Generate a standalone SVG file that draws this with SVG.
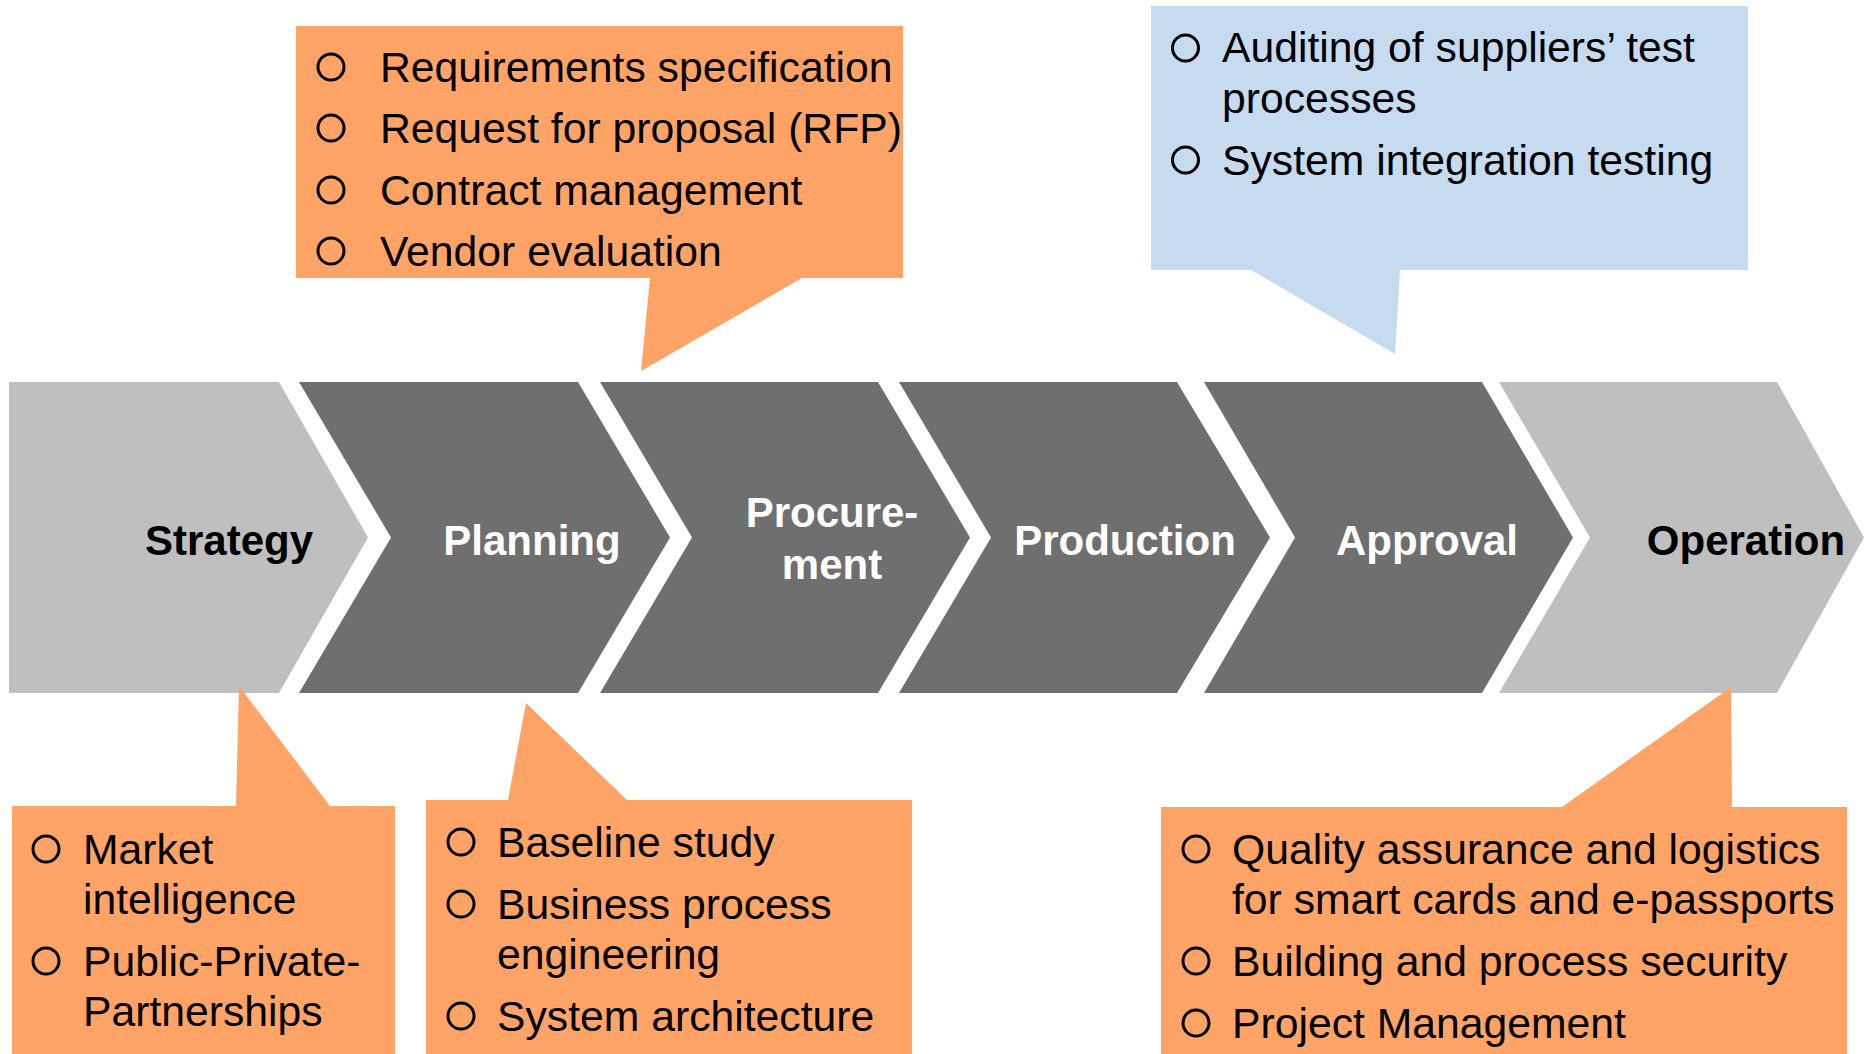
<svg xmlns="http://www.w3.org/2000/svg" width="1864" height="1054" viewBox="0 0 1864 1054">
<style>
.light{fill:#BFBFBF}
.dark{fill:#6F6F6F}
.orange{fill:#FFA366}
.blue{fill:#C6DBEF}
.lbl{font-family:"Liberation Sans",Arial,sans-serif;font-size:42px;font-weight:bold;text-anchor:middle}
.w{fill:#FFFFFF}
.k{fill:#000000}
.t{font-family:"Liberation Sans",Arial,sans-serif;font-size:42.7px;fill:#000000}
.b{fill:none;stroke:#000000;stroke-width:3}
</style>
<rect width="1864" height="1054" fill="#FFFFFF"/>
<g id="chevrons">
<g id="strategy">
<polygon class="light" points="9,382 279,382 368,537.5 279,693 9,693"/>
<text class="lbl k" x="229" y="555">Strategy</text>
</g>
<g id="planning">
<polygon class="dark" points="299,382 578,382 670,537.5 578,693 299,693 391,537.5"/>
<text class="lbl w" x="532" y="555">Planning</text>
</g>
<g id="procurement">
<polygon class="dark" points="600,382 878,382 970,537.5 878,693 600,693 692,537.5"/>
<text class="lbl w" x="832" y="527">Procure-</text>
<text class="lbl w" x="832" y="579">ment</text>
</g>
<g id="production">
<polygon class="dark" points="899,382 1177,382 1270,537.5 1177,693 899,693 991,537.5"/>
<text class="lbl w" x="1125" y="555">Production</text>
</g>
<g id="approval">
<polygon class="dark" points="1204,382 1482,382 1573,537.5 1482,693 1204,693 1295,537.5"/>
<text class="lbl w" x="1427" y="555">Approval</text>
</g>
<g id="operation">
<polygon class="light" points="1499,382 1777,382 1864,537.5 1777,693 1499,693 1590,537.5"/>
<text class="lbl k" x="1746" y="555">Operation</text>
</g>
</g>
<g id="connectors"></g>
<g id="callout-procurement">
<path class="orange" d="M296,26 H903 V278 H802 L641,371 L650,278 H296 Z"/>
<circle class="b" cx="331" cy="67" r="13"/>
<text class="t" x="380" y="82">Requirements specification</text>
<circle class="b" cx="331" cy="128" r="13"/>
<text class="t" x="380" y="143">Request for proposal (RFP)</text>
<circle class="b" cx="331" cy="190" r="13"/>
<text class="t" x="380" y="205">Contract management</text>
<circle class="b" cx="331" cy="251" r="13"/>
<text class="t" x="380" y="266">Vendor evaluation</text>
</g>
<g id="callout-approval">
<path class="blue" d="M1151,6 H1748 V270 H1400 L1395,354 L1251,270 H1151 Z"/>
<circle class="b" cx="1185.5" cy="48" r="13"/>
<text class="t" x="1222" y="62">Auditing of suppliers’ test</text>
<text class="t" x="1222" y="113">processes</text>
<circle class="b" cx="1185.5" cy="160" r="13"/>
<text class="t" x="1222" y="175">System integration testing</text>
</g>
<g id="callout-strategy">
<path class="orange" d="M12,806 H236 L239,686 L330,806 H395 V1060 H12 Z"/>
<circle class="b" cx="46" cy="849" r="13"/>
<text class="t" x="83" y="864">Market</text>
<text class="t" x="83" y="914">intelligence</text>
<circle class="b" cx="46" cy="961" r="13"/>
<text class="t" x="83" y="976">Public-Private-</text>
<text class="t" x="83" y="1026">Partnerships</text>
</g>
<g id="callout-planning">
<path class="orange" d="M426,800 H508 L526,703 L627,800 H912 V1060 H426 Z"/>
<circle class="b" cx="461" cy="842" r="13"/>
<text class="t" x="497" y="857">Baseline study</text>
<circle class="b" cx="461" cy="904" r="13"/>
<text class="t" x="497" y="919">Business process</text>
<text class="t" x="497" y="969">engineering</text>
<circle class="b" cx="461" cy="1016" r="13"/>
<text class="t" x="497" y="1031">System architecture</text>
</g>
<g id="callout-operation">
<path class="orange" d="M1161,807 H1562 L1731,687 L1732,807 H1847 V1060 H1161 Z"/>
<circle class="b" cx="1196" cy="849" r="13"/>
<text class="t" x="1232" y="864">Quality assurance and logistics</text>
<text class="t" x="1232" y="914">for smart cards and e-passports</text>
<circle class="b" cx="1196" cy="961" r="13"/>
<text class="t" x="1232" y="976">Building and process security</text>
<circle class="b" cx="1196" cy="1023" r="13"/>
<text class="t" x="1232" y="1038">Project Management</text>
</g>
</svg>
